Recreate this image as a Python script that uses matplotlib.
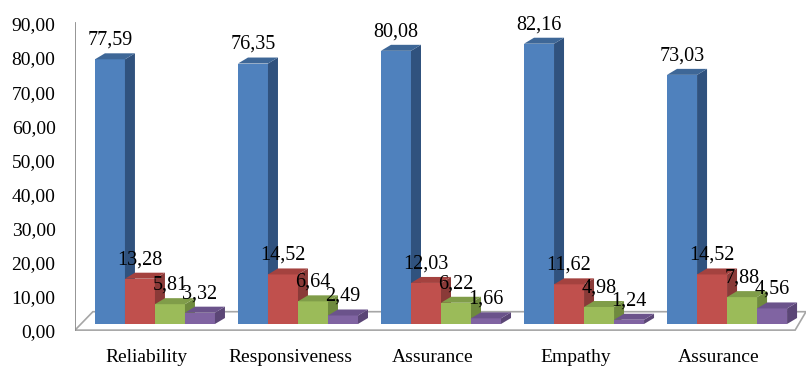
import numpy as np
import matplotlib.pyplot as plt
import matplotlib.transforms as mtransforms
from matplotlib.patches import Polygon

# data
categories = ['Reliability', 'Responsiveness', 'Assurance', 'Empathy', 'Assurance']
s1 = [77.59, 76.35, 80.08, 82.16, 73.03]
s2 = [13.28, 14.52, 12.03, 11.62, 14.52]
s3 = [5.81, 6.64, 6.22, 4.98, 7.88]
s4 = [3.32, 2.49, 1.66, 1.24, 4.56]
series = [s1, s2, s3, s4]

front = ['#4F81BD', '#C0504D', '#9BBB59', '#8064A2']
side = ['#30527E', '#8A3A38', '#6F8A3E', '#5B4676']
top = ['#3E6797', '#A4423F', '#809D49', '#6B538B']

plt.rcParams['font.family'] = ['Liberation Serif', 'DejaVu Serif']

fig = plt.figure(figsize=(8.06, 3.69), dpi=100)
ax = fig.add_axes([75 / 806, 0.1035, 731 / 806, 0.869])
ax.set_xlim(-0.559, 4.552)
ax.set_ylim(-2.0, 92)

w = 30 / 143
dx = 10 / 143
dy = 6 / 3.415

# floor
floor = Polygon([(-0.559, -1.8), (4.476, -1.8), (4.552, 3.6), (-0.434, 3.6)],
                closed=True, facecolor='white', edgecolor='#A6A6A6', lw=1.2, zorder=1)
ax.add_patch(floor)
ax.plot([-0.559, -0.559], [-1.8, 88.1], color='#8C8C8C', lw=1.3, zorder=1)

x = np.arange(len(categories))
for gi in range(len(categories)):
    for si in range(4):
        x0 = x[gi] - 2 * w + si * w
        h = series[si][gi]
        z = 2 + gi * 10 + si
        ax.bar(x0, h, width=w, align='edge', color=front[si], zorder=z)
        ax.add_patch(Polygon([(x0 + w, 0), (x0 + w + dx, dy), (x0 + w + dx, h + dy), (x0 + w, h)],
                             closed=True, facecolor=side[si], edgecolor='none', zorder=z))
        ax.add_patch(Polygon([(x0, h), (x0 + dx, h + dy), (x0 + w + dx, h + dy), (x0 + w, h)],
                             closed=True, facecolor=top[si], edgecolor='none', zorder=z))
        ax.annotate(f'{h:.2f}'.replace('.', ','), (x0 + w / 2, h), xytext=(0, 19),
                    textcoords='offset pixels', ha='center', va='center',
                    fontsize=14.5, color='black', zorder=100)

ax.set_yticks(np.arange(0, 91, 10))
ax.set_yticklabels([f'{v:.2f}'.replace('.', ',') for v in np.arange(0, 91, 10)], fontsize=14)
ax.set_xticks(x)
ax.set_xticklabels(categories, fontsize=14)
ax.tick_params(axis='y', length=0, pad=14)
ax.tick_params(axis='x', length=0, pad=13)

off_y = mtransforms.ScaledTranslation(0, -7 / 100, fig.dpi_scale_trans)
for lab in ax.get_yticklabels():
    lab.set_transform(lab.get_transform() + off_y)
off_x = mtransforms.ScaledTranslation(-8 / 100, 0, fig.dpi_scale_trans)
for lab in ax.get_xticklabels():
    lab.set_transform(lab.get_transform() + off_x)

for s in ax.spines.values():
    s.set_visible(False)

fig.savefig('out.png', dpi=100)
